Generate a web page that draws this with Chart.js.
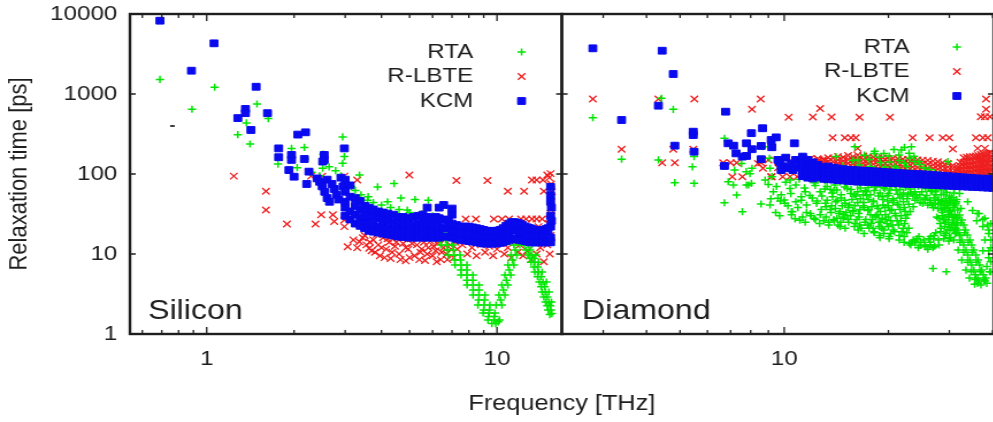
<!DOCTYPE html>
<html>
<head>
<meta charset="utf-8">
<title>Relaxation time vs frequency</title>
<script src="https://cdn.jsdelivr.net/npm/chart.js@4/dist/chart.umd.min.js"></script>
<style>
  html, body { margin: 0; padding: 0; background: #fff; overflow: hidden; width: 993px; height: 422px; }
  #stage { position: absolute; left: 0; top: 0; width: 870px; height: 422px; transform: scaleX(1.15); transform-origin: 0 0; }
</style>
</head>
<body>
<div id="stage"><canvas id="chart"></canvas></div>
<script>
// ---------- Silicon: [frequency THz, relaxation time ps] ----------
const siliconRtaPoints = [
  [0.69,1520],[0.89,645],[1.065,1215],[1.49,750],[1.37,435],[1.28,310],[1.41,237],[1.63,493],
  [1.76,133],[1.96,209],[2.17,215],[2.18,154],[2.52,177],[2.51,118],[2.64,123],[2.94,291],[2.94,136],[2.98,165],
  [2.05,120],[2.3,105],[2.45,95],[2.78,110],[2.9,95],[3.05,78],[3.15,70],[3.36,97],[3.88,69],[4.42,76],
  [4.67,50],[5.22,48],[5.8,47],[3.58,47],[4.91,35.5],[3.25,62],[3.4,55],[3.6,52],[3.75,44],[4.0,41],
  [4.2,45],[4.3,38],[4.6,36],[5.0,33],[5.5,32],[6.0,30],[6.5,27],[6.6,17],[7.0,15],[6.9,19]
];
// RTA branch falling into the ~10 THz dip, rising again and falling towards 15 THz
const siliconRtaDip = [
  [6.03,16.8],[6.32,16.8],[6.62,16.8],[6.42,13],[6.73,13],[7.05,13],[6.79,9.7],[7.12,9.7],[7.46,9.7],
  [7.17,7.3],[7.52,7.3],[7.88,7.3],[7.52,5.46],[7.88,5.46],[8.26,5.46],[7.89,4.1],[8.27,4.1],[8.67,4.1],
  [8.27,3.07],[8.67,3.07],[9.09,3.07],[8.6,2.3],[9.02,2.3],[9.45,2.3],[8.96,1.83],[9.39,1.83],[9.84,1.83],
  [9.31,1.5],[9.76,1.5],[10.2,1.5],
  [6.35,15],[6.65,15],[6.76,11.2],[7.08,11.2],[7.15,8.4],[7.49,8.4],[7.52,6.3],[7.88,6.3],[7.88,4.7],[8.26,4.7],
  [8.28,3.55],[8.67,3.55],[8.65,2.66],[9.06,2.66],[9.0,2.0],[9.42,2.0],[9.35,1.65],[9.8,1.65],
  [9.6,1.35],[9.9,1.35],[10.1,1.42],
  [9.93,2.3],[10.4,2.3],[10.16,3.07],[10.65,3.07],[10.4,4.1],[10.9,4.1],[10.65,5.46],[11.16,5.46],
  [10.91,7.3],[11.44,7.3],[11.18,9.7],[11.71,9.7],[11.43,13],[11.98,13],[11.72,16.3],[12.29,16.3],
  [10.3,2.66],[10.52,3.55],[10.78,4.7],[11.03,6.3],[11.3,8.4],[11.57,11.2],[11.85,15],
  [12.2,17],[12.5,17.5],[12.8,16],[12.4,14.5],
  [12.4,13],[12.8,13],[13.2,13],[12.8,9.7],[13.2,9.7],[13.6,9.7],[13.1,7.9],[13.5,7.9],[13.9,7.9],
  [13.5,5.96],[13.9,5.96],[14.3,5.96],[14.0,4.47],[14.4,4.47],[14.8,4.47],[14.3,3.35],[14.7,3.35],[15.1,3.35],
  [14.7,2.51],[15.1,2.51],[15.4,2.51],[15.0,2.0],[15.35,2.0],[15.2,1.75],[15.45,1.8],
  [12.6,11.2],[13.0,11.2],[13.0,8.8],[13.4,8.8],[13.4,6.9],[13.8,6.9],[13.8,5.2],[14.2,5.2],
  [14.2,3.9],[14.6,3.9],[14.5,2.9],[14.9,2.9],[14.9,2.25],[15.25,2.25]
];
const siliconLbtePoints = [
  [1.24,94],[1.60,61],[1.60,35.5],[1.89,23.7],[2.37,23.7],[2.48,30.9],[2.29,94],[2.5,94],[2.72,30.9],[2.75,25.5],
  [2.98,94],[3.3,84],[4.99,97],[7.25,83],[9.27,83],[10.9,61],[12.4,61],[13.2,84],[13.7,84],[14.4,84],[14.5,61],
  [14.9,97],[15.3,101],[15.15,90],[2.98,26.6],[2.98,22],[3.06,12.3],[3.36,14.2],[3.63,11.8],
  [7.8,27.4],[8.46,27.4],[9.76,27.4],[10.4,27.4],[11.0,27.4],[12.1,27.4],[12.6,27.4],[13.2,27.4],[13.7,27.4],[14.3,27.4],
  [3.2,15],[3.3,12],[3.45,16],[3.55,13],[3.7,11],[3.75,15],[3.9,13],[3.95,9.5],[4.05,16],[4.15,11.5],[4.25,14],
  [4.3,8.8],[4.45,12.5],[4.55,16],[4.6,10],[4.75,13.5],[4.85,8.2],[4.95,11.5],[5.05,15.5],[5.2,9.5],[5.3,13],
  [5.45,10.5],[5.55,16],[5.65,8.3],[5.8,12],[5.9,14.5],[6.0,9.5],[6.15,11],[6.3,15],[6.4,8.5],[6.55,12],
  [6.7,10],[6.9,13],[7.1,9],[7.3,11.5],[7.6,13],[7.9,10],[8.2,12],[8.5,9.5],[8.8,13],[9.1,10.5],[9.4,12.5],
  [9.7,9.5],[10.0,11.5],[10.3,13.5],[10.6,10],[10.9,12],[11.2,9],[11.5,14],[11.8,10.5],[12.0,13],[12.3,9.5],
  [12.5,16],[12.7,11],[12.9,20],[13.1,8.5],[13.3,14],[13.5,18],[13.7,10],[13.9,22],[14.1,12],[14.3,16],
  [14.5,8],[14.7,19],[14.9,13],[15.1,24],[15.2,10],[15.3,17],[15.4,30],[15.45,60],[15.4,45],
  [3.5,17],[3.65,14],[3.8,10.5],[3.85,17.5],[4.0,12],[4.1,9],[4.2,15.5],[4.35,10.5],[4.5,14],[4.65,8.5],
  [4.7,17],[4.85,12],[5.0,9],[5.1,13.5],[5.25,16.5],[5.4,8.5],[5.5,11.5],[5.6,14],[5.75,10],[5.85,16.5],
  [6.05,12.5],[6.2,8],[6.25,13.5],[6.45,10.5],[6.6,15],[6.75,8.5],[6.95,11.5],[7.2,14],
  [15.35,75],[15.4,38],[15.3,32],[15.2,27]
];
const siliconKcmPoints = [
  [0.69,8245],[0.886,1955],[1.06,4300],[1.48,1232],[1.36,650],[1.36,576],[1.28,500],[1.42,355],[1.62,576],
  [2.06,311],[2.19,332],[1.77,209],[1.77,162],[1.96,173],[1.96,150],[1.92,112],[2.0,92.5],[2.17,154],
  [2.25,107],[2.21,75],[2.54,150],[2.98,209],[2.54,173],[2.51,143],[15.3,54.6],
  [2.4,88],[2.45,80],[2.5,70],[2.55,60],[2.6,50],[2.65,45],[2.6,85],[2.7,75],[2.75,65],[2.8,55],
  [2.85,48],[2.9,90],[2.95,70],[3.0,60],[3.0,45]
];
// KCM band: [frequency, [relaxation times stacked at that frequency]]
const siliconKcmBand = [
  [3.0,[85,38,30]],[3.12,[72,52,34,27]],[3.25,[50,40,31,24]],[3.38,[46,36,28,22.5]],[3.5,[40,32,25,21]],
  [3.62,[38,30,24,19.5]],[3.75,[36,29,23,19]],[3.9,[34,28,22,18.5]],[4.05,[33,27,22,18]],[4.2,[32,26,21,17.5]],
  [4.4,[31,25,20,17]],[4.56,[29,24,20,16.5]],[4.75,[29,23.5,19.5,16.3]],[4.95,[28,23,19,16]],[5.15,[29,23,19,16]],
  [5.35,[30,24,19.5,16]],[5.55,[31,25,20,16]],[5.75,[38,29,23,19,16]],[5.95,[28,23,19,16]],[6.15,[29,23,19,16]],
  [6.32,[38,28,22,18,16]],[6.55,[41,27,21,16.5]],[6.8,[26,21,16.5]],[7.0,[37,31,24,19,16]],[7.25,[23,18.5,15.5]],
  [7.5,[22,18,15]],[7.75,[22,18,14.8]],[8.0,[22,18,14.5]],[8.25,[21.5,17.5,14.3]],[8.5,[21,17,14]],
  [8.75,[20.5,16.8,13.8]],[9.0,[20,16.5,13.5]],[9.25,[19.5,16.2,13.5]],[9.5,[19,16,13.5]],[9.75,[19.5,16,13.5]],
  [10.0,[19.5,16,13.5]],[10.25,[20,16.5,13.8]],[10.5,[21,17,14]],[10.75,[22.5,18,14.5]],[11.0,[24,19,15]],
  [11.25,[25,20,15.5]],[11.5,[25,20,15.5]],[11.75,[24.5,19.5,15.2]],[12.0,[24,19,15]],[12.25,[23,18.5,14.8]],
  [12.5,[22,18,14.5]],[12.75,[21.5,17.5,14.3]],[13.0,[21,17,14]],[13.25,[20.5,16.8,14]],[13.5,[20,16.5,14]],
  [13.75,[20,16.5,14]],[14.0,[20,16.5,14]],[14.25,[20,16.5,14]],[14.5,[20,16.5,14]],[14.75,[20.5,16.8,14]],
  [15.0,[21,17,14]],[15.3,[69,45,30,22,16,14]],[15.4,[38,26]]
];
const siliconStray = [[0.762,398]];

// ---------- Diamond: [frequency THz, relaxation time ps] ----------
const diamondRtaPoints = [
  [2.80,506],[3.39,153],[4.33,150],[4.42,883],[4.78,644],[4.83,77.8],[5.49,165],[5.43,123],[5.49,76.5],
  [6.72,279],[6.89,80],[7.19,112],[7.29,54.6],[7.77,107],[8.07,118],[7.89,72.9],[8.04,76.5],[8.68,219],
  [9.07,157],[9.21,92.5],[9.59,49.7],[6.72,43.7],[7.57,33.8],[8.57,42.2],[10.0,47.3],[10.5,33.8],
  [7.13,72.9],[7.78,72.9],[7.53,135],[7.96,101],[9.1,118],[8.81,84],[10.5,123],[10.4,84],[11.2,165],
  [14.1,165],[12.5,84],[16.0,219],[16.3,150],[18.2,181],[21.8,200],[23.3,219],[29.7,143],[26.9,6.6],[29.4,6.0]
];
// the broad RTA cloud between ~9 and ~32 THz (with its hollow near 25 THz)
const diamondRtaCloud = [
  [9.0,74],[9.15,49],[9.3,60],[9.1,41],[9.45,33],[9.5,70],[9.75,46],[9.8,55],[10.05,43],[9.7,30],
  [10.1,79],[10.45,57],[10.25,40],[10.55,34],[10.4,66],[10.8,45],[10.5,31],[10.75,27.5],
  [10.8,73],[11.2,52],[10.95,38],[11.3,29],[11.05,86],[11.5,60],[11.2,47],[11.6,33],[11.1,26.5],
  [11.45,67],[11.85,54],[11.6,41],[11.95,30],[11.5,25],
  [11.85,89],[12.3,72],[12.05,50],[12.4,43],[11.9,32],[12.2,28],[12.2,78],[12.7,60],[12.45,46],[12.8,36],
  [12.3,27],[12.65,24],[12.6,93],[13.1,65],[12.85,53],[13.2,39],[12.7,31],[13.0,26],[13.1,82],[13.6,64],
  [13.3,47],[13.7,40],[13.2,29],[13.45,25],[13.5,99],[14.0,73],[13.75,58],[14.1,45],[13.6,36],[13.9,27],
  [13.45,23],[13.9,108],[14.5,79],[14.2,63],[14.6,50],[14.05,37],[14.4,32],[13.95,26],[14.5,22],
  [14.4,90],[14.95,69],[14.6,55],[15.0,43],[14.5,34],[14.8,28],[14.3,23],
  [14.8,127],[15.4,94],[15.1,76],[15.55,57],[14.95,47],[15.3,38],[14.85,29],[15.35,25],[15.0,21],
  [15.3,112],[15.95,85],[15.6,64],[16.1,53],[15.45,41],[15.8,34],[15.3,27],[15.95,22],
  [15.8,148],[16.45,110],[16.1,88],[16.6,67],[15.95,55],[16.3,44],[15.8,35],[16.45,29],[16.0,24],[16.35,20],
  [16.5,130],[17.15,97],[16.75,79],[17.25,60],[16.6,49],[17.0,38],[16.4,32],[17.1,25],[16.7,21],
  [17.05,172],[17.7,124],[17.3,99],[17.85,76],[17.15,62],[17.5,48],[16.95,40],[17.75,31],[17.2,27],[17.6,21],[17.0,18],
  [17.6,152],[18.3,115],[17.9,86],[18.45,71],[17.75,55],[18.1,46],[17.55,36],[18.35,30],[17.8,24],[18.2,19],
  [18.25,193],[18.95,139],[18.5,110],[19.05,84],[18.35,69],[18.7,53],[18.1,45],[18.95,34],[18.4,29],[18.8,22],
  [18.2,18.5],[18.9,16],[18.8,162],[19.55,122],[19.1,91],[19.7,75],[18.9,58],[19.3,48],[18.7,37],[19.6,31],
  [19.0,25],[19.4,20],[18.85,17],[19.4,181],[20.15,141],[19.7,104],[20.3,86],[19.5,66],[19.9,54],[19.3,41],
  [20.2,35],[19.6,27],[20.0,22],[19.4,18],[20.1,15.5],[20.1,168],[20.85,124],[20.4,100],[21.0,77],[20.2,63],
  [20.6,49],[19.95,40],[20.9,32],[20.3,26],[20.7,20],[20.1,16.5],[20.75,202],[21.5,148],[21.1,118],[21.75,90],
  [20.9,73],[21.3,56],[20.7,47],[21.6,36],[21.0,30],[21.4,23],[20.8,19],[21.5,15],[21.45,173],[22.25,136],
  [21.8,102],[22.45,83],[21.6,64],[22.0,53],[21.35,41],[22.35,34],[21.7,26],[22.1,21],[21.5,17],[22.2,14],
  [22.25,215],[23.05,158],[22.6,124],[23.25,92],[22.35,75],[22.8,56],[22.1,45],[23.1,34],[22.45,28],[22.9,21],
  [22.2,16.5],[23.0,13.5],
  [22.95,182],[23.8,143],[23.3,106],[24.0,86],[23.1,65],[23.55,53],[22.9,42],[23.6,15],[23.2,13],
  [23.7,167],[24.6,131],[24.1,97],[24.8,79],[23.85,60],[24.3,50],[23.6,39],[24.5,16.5],[23.9,13.8],[24.4,12],
  [24.5,143],[25.4,106],[24.9,87],[25.6,66],[24.65,55],[25.1,43],[25.3,15],[24.7,12.8],
  [25.35,120],[26.3,97],[25.75,74],[26.5,61],[25.5,48],[26.0,41],[26.2,15.5],[25.5,13],[26.0,11.5],
  [26.25,114],[27.2,86],[26.65,71],[27.45,55],[26.4,47],[26.95,38],[27.1,17],[26.4,14],[26.9,12],
  [27.15,104],[28.15,85],[27.55,66],[28.4,55],[27.3,43],[27.8,37],[27.6,29],[28.2,24],[27.4,18.5],[27.9,15],[27.2,12.5],
  [28.0,99],[29.0,77],[28.45,63],[29.3,49],[28.15,42],[28.7,33],[27.9,28],[29.1,22],[28.3,19],[28.9,15.5],[28.0,13],
  [29.0,91],[30.0,71],[29.45,59],[30.3,46],[29.15,40],[29.7,31],[28.9,27],[30.1,21.5],[29.3,18],[29.9,14.5],
  [29.9,81],[31.0,66],[30.45,51],[31.3,43],[30.1,34],[30.7,29],[29.8,23.5],[31.1,19.5],[30.3,16],
  [31.0,75],[32.1,57],[31.45,48],[32.4,37],[31.1,31],[31.7,24.5],[30.9,20],[32.2,17]
];
// further RTA points filling the body of the cloud
const diamondRtaFill = [
  [13.3,70],[13.8,52],[13.15,43],[13.65,33],[14.2,28],[13.9,62],[14.7,40],[14.25,47],[14.9,31],[14.55,25],
  [15.2,66],[15.7,48],[15.1,33],[15.55,30],[16.0,40],[16.3,74],[16.55,36],[16.2,27],[16.9,55],[16.95,44],
  [16.55,23],[16.3,60],[17.5,68],[17.3,54],[17.9,39],[17.45,35],[18.0,27],[17.4,23],[18.6,78],[18.2,62],
  [18.55,40],[18.6,31],[18.05,21],[18.75,25],[19.35,68],[19.2,52],[19.9,46],[19.55,38],[19.2,28],[19.8,24],
  [19.15,21],[20.4,70],[20.05,57],[20.6,44],[20.45,36],[20.0,29],[20.55,23],[20.3,18],[21.3,82],[21.05,63],
  [21.6,50],[21.25,42],[21.75,30],[21.2,26],[21.85,19],[22.4,68],[22.1,58],[22.65,49],[22.2,38],[22.7,31],
  [22.3,24],[22.6,18.5],[23.5,76],[23.2,58],[23.9,47],[24.4,70],[24.1,55],[24.7,44],[25.2,76],[25.0,60],
  [25.5,50],[26.1,66],[25.8,54],[26.4,44],[26.8,62],[27.1,50],[26.7,41],[27.6,76],[27.3,60],[27.9,48],
  [23.9,14.5],[24.8,14],[25.6,12.3],[26.4,13],[27.0,15.5],[26.5,16.5],[24.2,15.5],[23.4,14],
  [28.3,70],[28.9,56],[28.5,45],[29.1,37],[28.6,30],[29.2,25],[28.4,21],[29.0,17],[29.4,66],[30.0,53],
  [29.6,43],[30.2,35],[29.8,29],[30.5,23],[29.6,20],[30.0,16],[30.9,58],[31.4,45],[30.8,38],[31.5,28],
  [30.9,25],[31.3,21],[31.2,18]
];
// steep RTA branch near the top of the diamond spectrum
const diamondRtaBranch = [
  [27.8,47],[29.3,47],[30.9,47],[28.5,35.5],[30.1,35.5],[31.7,35.5],[29.3,26.6],[30.9,26.6],[32.6,26.6],
  [30.1,20],[31.7,20],[33.4,20],[30.9,15],[32.6,15],[34.4,15],[31.8,11.2],[33.5,11.2],[35.3,11.2],
  [32.6,8.4],[34.4,8.4],[36.3,8.4],[33.5,6.3],[35.3,6.3],[37.2,6.3],[34.3,5.0],[36.2,5.0],[38.2,5.0],
  [35.5,4.2],[37.0,4.1],[38.5,4.3],
  [29.7,41],[31.2,41],[30.5,30.7],[32.1,30.7],[31.3,23],[33.0,23],[32.1,17.3],[33.8,17.3],[33.0,13],[34.8,13],
  [33.9,9.7],[35.8,9.7],[34.8,7.3],[36.7,7.3],[35.7,5.5],[37.6,5.5],[36.5,4.6],
  [28.55,44],[30.1,44],[29.0,38],[30.9,38],[29.9,29],[31.6,29],[30.7,24.5],[32.4,24.5],[31.4,18.5],[33.2,18.5],
  [32.2,14],[34.0,14],[33.0,10.5],[34.9,10.5],[33.9,7.9],[35.9,7.9],[34.7,6.0],[36.8,6.0],[35.6,4.8],[37.8,4.8],
  [36.2,4.3],[38.0,4.6],
  [35,35],[36.5,32],[38,28],[39.5,24],[36,26],[37.5,22],[39,18],[38,15],[39.5,12],[37.5,11],[39,9],
  [38.5,7],[39.5,6],[39,20],[39.5,15],[39,11],[39.5,8],[39.2,6],[33.9,45],[36.2,32],[37.5,27],[38.7,23]
];
const diamondLbtePoints = [
  [2.80,866],[4.33,866],[5.50,866],[8.55,866],[8.07,644],[3.39,204],[4.78,204],[5.46,204],[4.44,138],[4.83,138],
  [6.66,138],[7.0,138],[7.29,138],[7.08,92.5],[7.57,92.5],[8.58,138],[8.68,118],[9.17,92.5],
  [10.3,512],[12.1,515],[12.7,660],[13.7,515],[16.5,512],[20.2,512],
  [13.8,284],[14.96,284],[15.6,284],[16.1,284],[16.3,209],[23.5,284],[26.3,284],[28.7,284],[30.0,284],[30.7,205],
  [35.8,284],[37.5,284],[38.7,284],[36.2,209],[38.0,209],[38.3,866],[38.3,644],[37.0,520],[38.0,520],[39.3,520],
  [9.2,92.5],[9.9,92.5],[10.4,92.5],[10.9,92.5],[11.2,92.5],[11.9,155],[12.6,150],[13.1,150],
  [8.4,135],[9.0,150],[9.6,120],[10.3,140],[10.9,125]
];
const diamondLbteBand = [
  [11.7,[150,138,125]],[12.1,[148,132]],[12.5,[155,140,125]],[12.95,[152,137,122]],[13.4,[160,145,130]],
  [13.85,[158,142,128]],[14.3,[165,150,135,122]],[14.8,[162,146,131,118]],[15.3,[170,152,136,122]],
  [15.8,[165,148,133,120]],[16.3,[172,155,138,124,112]],[16.9,[168,152,137,123,111]],
  [17.5,[165,150,135,120,110]],[18.1,[162,147,133,119,109]],[18.7,[160,145,130,117,108]],
  [19.3,[159,144,129,116,107]],[19.9,[158,143,128,115,106]],[20.6,[156,141,127,114,105]],
  [21.3,[155,140,126,113,104]],[22.0,[153,138,124,112,103]],[22.8,[152,137,123,111,102]],
  [23.5,[151,136,122,110,101]],[24.3,[150,135,121,109,100]],[25.1,[149,134,120,108,99]],
  [26.0,[148,133,119,107,98]],[26.9,[145,130,117,105,97]],[27.8,[142,128,115,104,96]],
  [28.7,[138,125,112,102,94]],[29.7,[135,122,110,100,93]],[30.7,[128,117,106,97]],[31.7,[122,112,102,94]],
  [32.3,[140,125,112,101,93]],[33.0,[160,140,125,112,100,92]],[33.7,[162,142,126,113,101]],
  [34.4,[165,145,128,114,102,92]],[35.1,[166,146,129,115,103]],[35.8,[168,148,130,116,104,94]],
  [36.4,[170,150,131,117,105]],[37.0,[175,152,133,118,106,95]],[37.6,[177,154,134,119,107]],
  [38.3,[180,156,136,120,108,96]],[38.9,[182,158,138,121,109]],[39.5,[185,160,140,122,110,98]]
];
const diamondKcmPoints = [
  [2.80,3725],[4.44,3475],[4.78,1778],[3.39,473],[4.33,714],[4.83,226],[5.46,307],[5.46,338],[5.49,190],
  [6.77,601],[6.72,126],[6.89,242],[7.14,226],[7.26,181],[7.57,165],[7.78,168],[7.78,242],[8.04,324],
  [8.07,204],[8.66,373],[8.58,224],[9.17,266],[9.48,287],[9.21,216],[8.58,153],[9.59,150],[10.7,242],
  [9.7,140],[9.9,125],[10.1,160],[10.3,118],[10.5,135],[10.8,150],[11.0,120],[11.2,140],[9.8,112],[10.6,112]
];
const diamondKcmBand = [
  [11.3,[165,140,120,105,94]],[11.7,[150,130,113,100,90]],[12.1,[140,122,108,96,88]],[12.5,[130,115,102,91]],
  [13.0,[122,108,96,87]],[13.4,[124,108,96,86]],[13.9,[120,106,94,85]],[14.3,[117,104,93,84]],
  [14.8,[115,103,92,83]],[15.3,[113,102,91,82]],[15.8,[112,101,90,81]],[16.3,[111,100,89,80.5]],
  [16.9,[110,99,88.5,80]],[17.5,[109,98,88,79.5]],[18.1,[108,97,87.5,79]],[18.7,[107,96.5,87,78.5]],
  [19.3,[106,96,86.5,78]],[19.9,[105,95.5,86,77.5]],[20.6,[104,95,85.5,77]],[21.3,[103,94,85,76.5]],
  [22.0,[102,93,84.5,76]],[22.8,[101,92.5,84,75.5]],[23.5,[100,92,83.5,75]],[24.3,[99.5,91.5,83,74.5]],
  [25.1,[99,91,82.5,74]],[26.0,[98,90,82,73.5]],[26.9,[97,89,81,73]],[27.8,[96,88.5,80.5,72.5]],
  [28.7,[95,88,80,72]],[29.7,[94,87,79.5,71.5]],[30.7,[93,86,79,71]],[31.7,[92,85,78,70.5]],
  [32.8,[91,84,77.5,70]],[33.9,[90,83.5,77,69.5]],[35.0,[89,83,76.5,69]],[36.2,[88,82,76,68.5]],
  [37.5,[87.5,81.5,75.5,68]],[38.7,[87,81,75,67.5]],[40.0,[86,80,74,67]]
];

// ---------- axes ----------
const yTickValues = [1, 10, 100, 1000, 10000];
const siliconTickLabels = [1, 10];
const diamondTickLabels = [10];
const siliconMinorTicks = [0.6, 0.7, 0.8, 0.9, 2, 3, 4, 5, 6, 7, 8, 9];
const diamondMinorTicks = [3, 4, 5, 6, 7, 8, 9, 20, 30, 40];

const INK = '#1e1e1e';
const FONT = '"Liberation Sans", Arial, Helvetica, sans-serif';
const GREEN = '#00e600';
const RED = '#ee1f1f';
const BLUE = '#0a0aee';

const pairs = list => list.map(([x, y]) => ({ x, y }));
const columns = list => list.flatMap(([x, ys]) => ys.map(y => ({ x, y })));

function series(label, data, axis, style) {
  const base = { label, data, xAxisID: axis, yAxisID: 'y' };
  if (style === 'rta') return Object.assign(base, { pointStyle: 'cross', pointRadius: 3.6, pointBorderWidth: 1.5,
    pointBorderColor: GREEN, pointBackgroundColor: GREEN, borderColor: GREEN, backgroundColor: GREEN, order: 1 });
  if (style === 'lbte') return Object.assign(base, { pointStyle: 'crossRot', pointRadius: 4.6, pointBorderWidth: 1.3,
    pointBorderColor: RED, pointBackgroundColor: RED, borderColor: RED, backgroundColor: RED, order: 2 });
  return Object.assign(base, { pointStyle: 'rect', pointRadius: 4.8, pointBorderWidth: 1,
    pointBorderColor: BLUE, pointBackgroundColor: BLUE, borderColor: BLUE, backgroundColor: BLUE, order: 0 });
}

const datasets = [
  series('RTA', pairs(siliconRtaPoints).concat(pairs(siliconRtaDip)), 'x1', 'rta'),
  series('R-LBTE', pairs(siliconLbtePoints), 'x1', 'lbte'),
  series('KCM', pairs(siliconKcmPoints).concat(columns(siliconKcmBand)), 'x1', 'kcm'),
  { label: '', data: pairs(siliconStray), xAxisID: 'x1', yAxisID: 'y', pointStyle: 'line', pointRadius: 2,
    pointBorderWidth: 1.5, pointBorderColor: '#000', borderColor: '#000', order: 3 },
  series('RTA', pairs(diamondRtaPoints).concat(pairs(diamondRtaCloud), pairs(diamondRtaFill), pairs(diamondRtaBranch)), 'x2', 'rta'),
  series('R-LBTE', pairs(diamondLbtePoints).concat(columns(diamondLbteBand)), 'x2', 'lbte'),
  series('KCM', pairs(diamondKcmPoints).concat(columns(diamondKcmBand)), 'x2', 'kcm')
];

function freqAxis(min, max, labels) {
  return {
    type: 'logarithmic', position: 'bottom', stack: 'freq', stackWeight: 1, min, max,
    grid: { display: false, drawTicks: false }, border: { display: false },
    ticks: { autoSkip: false, maxRotation: 0, padding: 13, color: INK, font: { family: FONT, size: 21 },
      callback: v => String(v) },
    afterBuildTicks: s => { s.ticks = labels.map(v => ({ value: v })); },
    afterFit: s => { s.height = 88; s.paddingLeft = 0; s.paddingRight = 0; }
  };
}

// panel frames, inward tick marks, keys, panel names and the shared frequency title
const panelDecor = {
  id: 'panelDecor',
  afterDraw(chart) {
    const { ctx, chartArea } = chart;
    const ys = chart.scales.y;
    const top = chartArea.top, bottom = chartArea.bottom;
    const panels = [
      { scale: chart.scales.x1, name: 'Silicon', majors: siliconTickLabels, minors: siliconMinorTicks,
        nameDx: 15.7, keyTextDx: -77, keySymDx: -35, keyY: 52 },
      { scale: chart.scales.x2, name: 'Diamond', majors: diamondTickLabels, minors: diamondMinorTicks,
        nameDx: 17.4, keyTextDx: -73, keySymDx: -32, keyY: 47 }
    ];
    ctx.save();
    ctx.strokeStyle = INK;
    panels.forEach(p => {
      const s = p.scale;
      ctx.lineWidth = 2.4;
      ctx.strokeRect(s.left, top, s.right - s.left, bottom - top);
      ctx.lineWidth = 1.3;
      ctx.beginPath();
      const xTick = (v, len) => {
        const px = s.getPixelForValue(v);
        ctx.moveTo(px, bottom); ctx.lineTo(px, bottom - len);
        ctx.moveTo(px, top); ctx.lineTo(px, top + len);
      };
      p.majors.forEach(v => xTick(v, 7));
      p.minors.forEach(v => xTick(v, 4));
      yTickValues.forEach(v => {
        const py = ys.getPixelForValue(v);
        ctx.moveTo(s.left, py); ctx.lineTo(s.left + 5, py);
        ctx.moveTo(s.right, py); ctx.lineTo(s.right - 5, py);
      });
      ctx.stroke();

      // key
      const keyed = chart.data.datasets.filter(d => d.xAxisID === s.id && d.label);
      keyed.forEach((d, i) => {
        const y = p.keyY + i * 24.5;
        ctx.fillStyle = INK;
        ctx.font = '21px ' + FONT;
        ctx.textAlign = 'right';
        ctx.textBaseline = 'middle';
        ctx.fillText(d.label, s.right + p.keyTextDx, y);
        ctx.save();
        ctx.strokeStyle = d.pointBorderColor;
        ctx.fillStyle = d.pointBackgroundColor;
        ctx.lineWidth = d.pointBorderWidth;
        Chart.helpers.drawPoint(ctx, { pointStyle: d.pointStyle, radius: d.pointRadius, rotation: 0,
          borderWidth: d.pointBorderWidth }, s.right + p.keySymDx, y);
        ctx.restore();
      });

      // panel name
      ctx.fillStyle = INK;
      ctx.font = '28px ' + FONT;
      ctx.textAlign = 'left';
      ctx.textBaseline = 'alphabetic';
      ctx.fillText(p.name, s.left + p.nameDx, 319);
    });
    ctx.font = '22px ' + FONT;
    ctx.textAlign = 'center';
    ctx.textBaseline = 'alphabetic';
    ctx.fillStyle = INK;
    ctx.fillText('Frequency [THz]', (chartArea.left + chartArea.right) / 2, 410);
    ctx.restore();
  }
};

Chart.defaults.font.family = FONT;
new Chart(document.getElementById('chart'), {
  type: 'scatter',
  data: { datasets },
  options: {
    responsive: true,
    maintainAspectRatio: false,
    animation: false,
    events: [],
    layout: { padding: { left: 0, top: 14, right: 3.9, bottom: 0 } },
    plugins: { legend: { display: false }, tooltip: { enabled: false } },
    scales: {
      x1: freqAxis(0.544, 16.73, siliconTickLabels),
      x2: freqAxis(2.278, 40.3, diamondTickLabels),
      y: {
        type: 'logarithmic', position: 'left', min: 1, max: 10000,
        grid: { display: false, drawTicks: false }, border: { display: false },
        ticks: { autoSkip: false, padding: 11, color: INK, font: { family: FONT, size: 21 }, callback: v => String(v) },
        afterBuildTicks: s => { s.ticks = yTickValues.map(v => ({ value: v })); },
        afterFit: s => { s.width = 113; s.paddingTop = 0; s.paddingBottom = 0; },
        title: { display: true, text: 'Relaxation time [ps]', color: INK, font: { family: FONT, size: 22 },
          padding: { top: 4, bottom: 0 } }
      }
    }
  },
  plugins: [panelDecor]
});
</script>
</body>
</html>
